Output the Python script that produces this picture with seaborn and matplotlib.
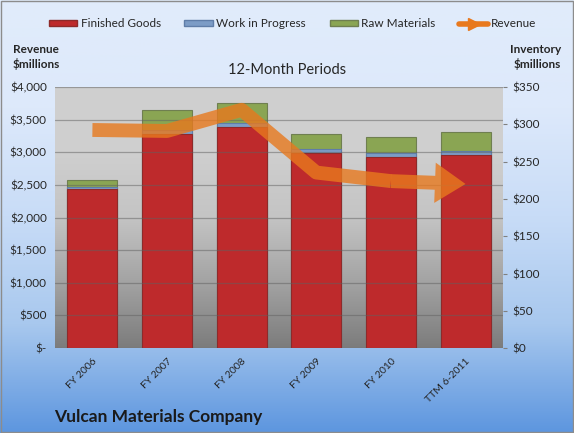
import numpy as np
import pandas as pd
import seaborn as sns
import matplotlib.pyplot as plt
from matplotlib.colors import LinearSegmentedColormap
from matplotlib.patches import Patch, Rectangle
from matplotlib.lines import Line2D

periods = ["FY 2006", "FY 2007", "FY 2008", "FY 2009", "FY 2010", "TTM 6-2011"]
finished_goods = [213, 287, 296, 262, 256, 259]
work_in_progress = [3.4, 5, 5.4, 4.5, 5.4, 5.4]
raw_materials = [8.7, 27, 27.6, 20.5, 21.5, 24.7]
revenue = [3342, 3327, 3651, 2690, 2559, 2515]

left_ticks = [0, 500, 1000, 1500, 2000, 2500, 3000, 3500, 4000]
left_labels = ["$-", "$500", "$1,000", "$1,500", "$2,000", "$2,500", "$3,000", "$3,500", "$4,000"]
right_ticks = [0, 50, 100, 150, 200, 250, 300, 350]
right_labels = ["$0", "$50", "$100", "$150", "$200", "$250", "$300", "$350"]

c_fg = "#BE2A2C"
c_wip = "#7C9CC6"
c_raw = "#8AA553"
c_rev = "#E8791E"

sns.set_style("white")
plt.rcParams["font.family"] = ["Lato", "DejaVu Sans"]

df = pd.DataFrame({"period": periods, "fg": finished_goods,
                   "wip": work_in_progress, "raw": raw_materials})
df["fg_wip"] = df["fg"] + df["wip"]
df["total"] = df["fg_wip"] + df["raw"]

fig = plt.figure(figsize=(5.74, 4.33), dpi=100)

# figure background gradient
bg = fig.add_axes([0, 0, 1, 1], zorder=-10)
fig_cmap = LinearSegmentedColormap.from_list(
    "figbg", ["#5D96DF", "#A8C8EE", "#C8DCF7", "#DDE9FB", "#E1ECFB"])
bg.imshow(np.linspace(0, 1, 256).reshape(-1, 1), aspect="auto", cmap=fig_cmap,
          origin="lower", extent=[0, 1, 0, 1])
bg.set_axis_off()
bg.add_patch(Rectangle((0.002, 0.002), 0.996, 0.996, fill=False,
                       edgecolor="#8C8C8C", lw=1, transform=bg.transAxes))

ax = fig.add_axes([0.096, 0.196, 0.78, 0.603])
# plot area gray gradient
plot_cmap = LinearSegmentedColormap.from_list(
    "plotbg", ["#7C7C7C", "#A3A3A3", "#C4C4C4", "#CFCFCF", "#D0D0D0"])
ax.imshow(np.linspace(0, 1, 256).reshape(-1, 1), aspect="auto", cmap=plot_cmap,
          origin="lower", extent=[-0.5, 5.5, 0, 350], zorder=0)

sns.barplot(data=df, x="period", y="total", color=c_raw, width=0.67,
            saturation=1, edgecolor="#6F7F50", linewidth=0.8, ax=ax, zorder=2)
sns.barplot(data=df, x="period", y="fg_wip", color=c_wip, width=0.67,
            saturation=1, edgecolor="#5F7DA8", linewidth=0.8, ax=ax, zorder=3)
sns.barplot(data=df, x="period", y="fg", color=c_fg, width=0.67,
            saturation=1, edgecolor="#8E2A2A", linewidth=0.8, ax=ax, zorder=4)

ax2 = ax.twinx()

ax.set_xlim(-0.5, 5.5)
ax.set_ylim(0, 350)
ax.yaxis.tick_right()
ax.set_yticks(right_ticks)
ax.set_yticklabels(right_labels, fontsize=8.5)
ax.set_xticks(range(len(periods)))
ax.set_xticklabels(periods, rotation=45, ha="right", rotation_mode="anchor", fontsize=7.5)
ax.tick_params(axis="y", length=3, color="#808080", pad=4)
ax.tick_params(axis="x", length=0, pad=6)
ax.set_xlabel("")
ax.set_ylabel("")
for s in ax.spines.values():
    s.set_visible(False)

ax2.set_ylim(0, 4000)
ax2.yaxis.tick_left()
ax2.set_yticks(left_ticks)
ax2.set_yticklabels(left_labels, fontsize=8.5)
ax2.tick_params(axis="y", length=0, pad=6)
ax2.grid(axis="y", color="#606060", lw=0.9, alpha=0.5)
for s in ax2.spines.values():
    s.set_visible(False)

x_pos = np.arange(len(periods))
sns.lineplot(x=x_pos[:-1], y=revenue[:-1], color=c_rev, lw=10, alpha=0.8,
             solid_capstyle="butt", solid_joinstyle="round", ax=ax2, zorder=5)
ax2.annotate("", xy=(x_pos[-1], revenue[-1]), xytext=(x_pos[-2], revenue[-2]),
             arrowprops=dict(arrowstyle="simple,head_width=2.9,head_length=2.2,tail_width=1.0",
                             color=c_rev, alpha=0.8, lw=0, shrinkA=0, shrinkB=0),
             zorder=5)
ax2.set_xlim(-0.5, 5.5)

fig.text(0.5, 0.838, "12-Month Periods", ha="center", va="center", fontsize=10.5)
fig.text(0.022, 0.868, "Revenue\n$millions", ha="left", va="center",
         fontsize=8.5, fontweight="bold", linespacing=1.3)
fig.text(0.978, 0.868, "Inventory\n$millions", ha="right", va="center",
         fontsize=8.5, fontweight="bold", linespacing=1.3)
fig.text(0.095, 0.037, "Vulcan Materials Company", ha="left", va="center",
         fontsize=12.5, fontweight="bold", color="#1A1A1A")

handles = [Patch(facecolor=c_fg, edgecolor="#8E2A2A"),
           Patch(facecolor=c_wip, edgecolor="#5F7DA8"),
           Patch(facecolor=c_raw, edgecolor="#6F7F50"),
           Line2D([0], [0], color=c_rev, lw=4, marker=">", markersize=8, markevery=[1])]
fig.legend(handles, ["Finished Goods", "Work in Progress", "Raw Materials", "Revenue"],
           loc="center", bbox_to_anchor=(0.51, 0.945), ncol=4, frameon=False,
           fontsize=8.5, handlelength=2.4, handleheight=0.5, columnspacing=2.0,
           handletextpad=0.3)

fig.savefig("out.png", dpi=100)
